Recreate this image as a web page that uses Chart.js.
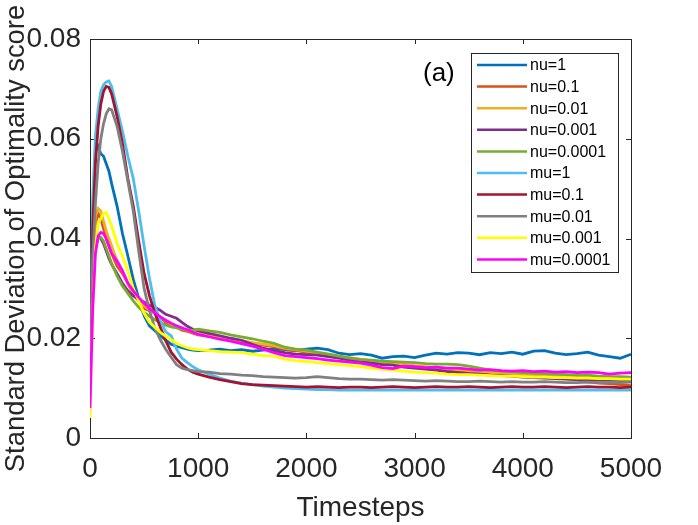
<!DOCTYPE html>
<html>
<head>
<meta charset="utf-8">
<script src="https://cdn.jsdelivr.net/npm/chart.js@4.4.1/dist/chart.umd.min.js"></script>
<style>
  html, body { margin: 0; padding: 0; background: #fff; }
  #wrap { width: 698px; height: 525px; }
</style>
</head>
<body>
<div id="wrap"><canvas id="chart"></canvas></div>
<script>
// timesteps shared by every series
const timesteps = [0, 25, 50, 75, 100, 125, 150, 175, 200, 250, 300, 350, 400, 450, 500, 550, 600, 650, 700, 750, 800, 850, 900, 950, 1000,
  1100, 1200, 1300, 1400, 1500, 1600, 1700, 1800, 1900, 2000, 2100, 2200, 2300, 2400, 2500, 2600, 2700, 2800, 2900, 3000,
  3100, 3200, 3300, 3400, 3500, 3600, 3700, 3800, 3900, 4000, 4100, 4200, 4300, 4400, 4500, 4600, 4700, 4800, 4900, 5000];

const seriesLabels = ['nu=1', 'nu=0.1', 'nu=0.01', 'nu=0.001', 'nu=0.0001', 'mu=1', 'mu=0.1', 'mu=0.01', 'mu=0.001', 'mu=0.0001'];
const seriesColors = ['#0072BD', '#D95319', '#EDB120', '#7E2F8E', '#77AC30', '#4DBEEE', '#A2142F', '#808080', '#FFFF00', '#FF00FF'];

const nu1 = [0.012, 0.045, 0.0575, 0.0585, 0.057, 0.0565, 0.055, 0.0535, 0.051, 0.0465, 0.041, 0.0365, 0.0318, 0.028, 0.0245, 0.0225, 0.0215, 0.0205, 0.0196, 0.0188, 0.0184, 0.0181, 0.0178, 0.0176, 0.0175,
  0.0176, 0.0178, 0.0175, 0.0177, 0.0174, 0.0176, 0.0179, 0.0177, 0.0175, 0.0178, 0.0180, 0.0177, 0.0170, 0.0167, 0.0169, 0.0166, 0.0160, 0.0163, 0.0164, 0.0161,
  0.0166, 0.0170, 0.0168, 0.0171, 0.0170, 0.0167, 0.0171, 0.0169, 0.0172, 0.0168, 0.0174, 0.0175, 0.0170, 0.0167, 0.0169, 0.0172, 0.0166, 0.0163, 0.0160, 0.0168];
const nu01 = [0.012, 0.035, 0.043, 0.045, 0.044, 0.042, 0.040, 0.0385, 0.037, 0.0345, 0.033, 0.031, 0.0288, 0.0275, 0.026, 0.0255, 0.025, 0.0242, 0.0232, 0.0225, 0.0222, 0.0216, 0.0214, 0.021, 0.0207,
  0.0204, 0.0201, 0.0196, 0.0192, 0.0190, 0.0186, 0.0183, 0.0178, 0.0175, 0.0172, 0.0168, 0.0166, 0.0162, 0.0160, 0.0157, 0.0153, 0.0151, 0.0149, 0.0146, 0.0143,
  0.0141, 0.0139, 0.0136, 0.0135, 0.0133, 0.0131, 0.0130, 0.0129, 0.0127, 0.0126, 0.0124, 0.0122, 0.0121, 0.0119, 0.0117, 0.0113, 0.0110, 0.0109, 0.0107, 0.0105];
const nu001 = [0.012, 0.036, 0.0445, 0.046, 0.0455, 0.0435, 0.0415, 0.040, 0.0385, 0.0355, 0.0335, 0.031, 0.029, 0.0277, 0.0265, 0.0257, 0.025, 0.0243, 0.0236, 0.0228, 0.0223, 0.0219, 0.0216, 0.0212, 0.0209,
  0.0206, 0.0201, 0.0198, 0.0195, 0.0191, 0.0188, 0.0185, 0.0180, 0.0177, 0.0174, 0.0170, 0.0168, 0.0164, 0.0161, 0.0158, 0.0155, 0.0152, 0.0150, 0.0148, 0.0145,
  0.0143, 0.0141, 0.0139, 0.0137, 0.0135, 0.0133, 0.0131, 0.0130, 0.0128, 0.0127, 0.0126, 0.0125, 0.0124, 0.0123, 0.0122, 0.0121, 0.0120, 0.0119, 0.0118, 0.0117];
const nu0001 = [0.012, 0.032, 0.039, 0.0405, 0.040, 0.039, 0.0375, 0.036, 0.0348, 0.033, 0.031, 0.0295, 0.0285, 0.0278, 0.0272, 0.0266, 0.0262, 0.0256, 0.0248, 0.0244, 0.0240, 0.0232, 0.0224, 0.0218, 0.0215,
  0.0210, 0.0205, 0.0200, 0.0196, 0.0188, 0.0180, 0.0175, 0.0171, 0.0168, 0.0167, 0.0166, 0.0163, 0.0160, 0.0156, 0.0153, 0.0150, 0.0147, 0.0146, 0.0142, 0.0140,
  0.0138, 0.0136, 0.0133, 0.0131, 0.0129, 0.0128, 0.0126, 0.0125, 0.0124, 0.0122, 0.0121, 0.0120, 0.0119, 0.0118, 0.0117, 0.0117, 0.0116, 0.0115, 0.0115, 0.0114];
const nu00001 = [0.012, 0.031, 0.038, 0.040, 0.0402, 0.0395, 0.038, 0.0365, 0.035, 0.0325, 0.0305, 0.029, 0.0275, 0.0262, 0.0252, 0.0244, 0.0237, 0.0232, 0.0226, 0.0223, 0.0221, 0.0219, 0.0217, 0.0216, 0.0218,
  0.0215, 0.0212, 0.0207, 0.0203, 0.0199, 0.0194, 0.0190, 0.0182, 0.0178, 0.0176, 0.0172, 0.0168, 0.0164, 0.0160, 0.0157, 0.0156, 0.0154, 0.0153, 0.0152, 0.0151,
  0.0149, 0.0148, 0.0148, 0.0147, 0.0144, 0.0140, 0.0136, 0.0134, 0.0133, 0.0131, 0.0130, 0.0129, 0.0128, 0.0127, 0.0126, 0.0126, 0.0124, 0.0123, 0.0123, 0.0122];
const mu1 = [0.010, 0.048, 0.0605, 0.066, 0.0695, 0.0708, 0.0714, 0.0716, 0.0705, 0.066, 0.0615, 0.0565, 0.052, 0.0455, 0.0385, 0.032, 0.0265, 0.0235, 0.0213, 0.0205, 0.0178, 0.0160, 0.0151, 0.0143, 0.0137,
  0.0128, 0.0120, 0.0114, 0.0110, 0.0107, 0.0104, 0.0102, 0.0100, 0.0099, 0.0098, 0.0097, 0.0097, 0.0096, 0.0096, 0.0096, 0.0096, 0.0096, 0.0096, 0.0096, 0.0096,
  0.0096, 0.0096, 0.0096, 0.0096, 0.0096, 0.0096, 0.0096, 0.0096, 0.0096, 0.0096, 0.0096, 0.0096, 0.0096, 0.0096, 0.0096, 0.0096, 0.0096, 0.0096, 0.0096, 0.0096];
const mu01 = [0.012, 0.042, 0.055, 0.0625, 0.067, 0.0695, 0.0705, 0.0703, 0.069, 0.0645, 0.059, 0.052, 0.0465, 0.0395, 0.033, 0.0285, 0.025, 0.0222, 0.0195, 0.0172, 0.0158, 0.0147, 0.0138, 0.0132, 0.0128,
  0.0122, 0.0117, 0.0113, 0.0109, 0.0107, 0.0106, 0.0105, 0.0104, 0.0103, 0.0102, 0.0103, 0.0102, 0.0101, 0.0102, 0.0102, 0.0101, 0.0102, 0.0103, 0.0102, 0.0101,
  0.0102, 0.0103, 0.0102, 0.0102, 0.0103, 0.0102, 0.0101, 0.0102, 0.0103, 0.0102, 0.0102, 0.0103, 0.0102, 0.0101, 0.0102, 0.0103, 0.0102, 0.0102, 0.0101, 0.0102];
const mu001 = [0.014, 0.036, 0.047, 0.055, 0.060, 0.063, 0.065, 0.066, 0.0658, 0.0625, 0.0575, 0.0515, 0.0455, 0.0375, 0.030, 0.0255, 0.022, 0.0197, 0.0178, 0.0162, 0.0147, 0.0140, 0.0137, 0.0135, 0.0133,
  0.0132, 0.0129, 0.0128, 0.0126, 0.0125, 0.0123, 0.0122, 0.0121, 0.0120, 0.0121, 0.0123, 0.0121, 0.0119, 0.0118, 0.0118, 0.0117, 0.0116, 0.0117, 0.0116, 0.0115,
  0.0114, 0.0115, 0.0114, 0.0113, 0.0113, 0.0114, 0.0113, 0.0112, 0.0113, 0.0112, 0.0112, 0.0113, 0.0112, 0.0111, 0.0111, 0.0112, 0.0111, 0.0112, 0.0111, 0.0112];
const mu0001 = [0.004, 0.025, 0.038, 0.043, 0.044, 0.045, 0.0452, 0.0440, 0.0425, 0.039, 0.0365, 0.0335, 0.030, 0.0275, 0.025, 0.0232, 0.0222, 0.0212, 0.0204, 0.0197, 0.0190, 0.0185, 0.0181, 0.0178, 0.0177,
  0.0175, 0.0173, 0.0172, 0.0171, 0.0168, 0.0165, 0.0164, 0.0158, 0.0155, 0.0153, 0.0151, 0.0149, 0.0147, 0.0145, 0.0143, 0.0140, 0.0138, 0.0136, 0.0134, 0.0132,
  0.0131, 0.0130, 0.0128, 0.0127, 0.0127, 0.0126, 0.0125, 0.0124, 0.0124, 0.0123, 0.0122, 0.0122, 0.0121, 0.0121, 0.0120, 0.0120, 0.0119, 0.0119, 0.0118, 0.0118];
const mu00001 = [0.006, 0.026, 0.037, 0.0405, 0.0412, 0.041, 0.040, 0.0385, 0.037, 0.0355, 0.0335, 0.031, 0.0295, 0.0282, 0.027, 0.026, 0.0251, 0.0243, 0.0236, 0.0230, 0.0225, 0.0221, 0.0217, 0.0212, 0.0208,
  0.0203, 0.0198, 0.0194, 0.0189, 0.0184, 0.0178, 0.0171, 0.0165, 0.0163, 0.0161, 0.0159, 0.0156, 0.0154, 0.0152, 0.0150, 0.0146, 0.0141, 0.0139, 0.0144, 0.0143,
  0.0141, 0.0142, 0.0140, 0.0140, 0.0138, 0.0136, 0.0137, 0.0135, 0.0134, 0.0135, 0.0133, 0.0134, 0.0132, 0.0133, 0.0131, 0.0132, 0.0131, 0.0128, 0.0130, 0.0131];

const allSeries = [nu1, nu01, nu001, nu0001, nu00001, mu1, mu01, mu001, mu0001, mu00001];

const FONT = '"Liberation Sans", Arial, Helvetica, sans-serif';
const AXIS = '#262626';

// MATLAB-like box with inward ticks on all four sides
const boxPlugin = {
  id: 'box',
  beforeDatasetsDraw(chart) {
    const { ctx, chartArea: a, scales } = chart;
    ctx.save();
    ctx.strokeStyle = AXIS;
    ctx.lineWidth = 1;
    ctx.strokeRect(Math.round(a.left) + 0.5, Math.round(a.top) + 0.5, Math.round(a.right - a.left), Math.round(a.bottom - a.top));
    const tl = 5;
    ctx.beginPath();
    scales.x.ticks.forEach(t => {
      const px = Math.round(scales.x.getPixelForValue(t.value)) + 0.5;
      ctx.moveTo(px, a.bottom); ctx.lineTo(px, a.bottom - tl);
      ctx.moveTo(px, a.top); ctx.lineTo(px, a.top + tl);
    });
    scales.y.ticks.forEach(t => {
      const py = Math.round(scales.y.getPixelForValue(t.value)) + 0.5;
      ctx.moveTo(a.left, py); ctx.lineTo(a.left + tl, py);
      ctx.moveTo(a.right, py); ctx.lineTo(a.right - tl, py);
    });
    ctx.stroke();
    ctx.restore();
  },
  afterDatasetsDraw(chart) {
    const { ctx, chartArea: a } = chart;
    ctx.save();
    // panel tag
    ctx.fillStyle = '#000';
    ctx.font = '26px ' + FONT;
    ctx.textBaseline = 'middle';
    ctx.textAlign = 'left';
    ctx.fillText('(a)', a.left + 333, a.top + 35);
    // legend box
    const bx = a.right - 160, by = a.top + 14, bw = 147, bh = 219;
    ctx.fillStyle = '#fff';
    ctx.fillRect(bx, by, bw, bh);
    ctx.strokeStyle = AXIS;
    ctx.lineWidth = 1;
    ctx.strokeRect(Math.round(bx) + 0.5, Math.round(by) + 0.5, bw, bh);
    ctx.font = '16px ' + FONT;
    seriesLabels.forEach((lab, i) => {
      const y = by + 12 + i * 21.6;
      ctx.strokeStyle = seriesColors[i];
      ctx.lineWidth = 2.5;
      ctx.beginPath();
      ctx.moveTo(bx + 6, y); ctx.lineTo(bx + 56, y);
      ctx.stroke();
      ctx.fillStyle = '#000';
      ctx.fillText(lab, bx + 59, y + 1);
    });
    ctx.restore();
  }
};

const datasets = allSeries.map((vals, i) => ({
  label: seriesLabels[i],
  data: timesteps.map((t, k) => ({ x: t, y: vals[k] })),
  borderColor: seriesColors[i],
  backgroundColor: seriesColors[i],
  borderWidth: 2.8,
  pointRadius: 0,
  tension: 0,
  fill: false,
  order: 9 - i
}));

new Chart(document.getElementById('chart'), {
  type: 'line',
  data: { datasets },
  options: {
    responsive: true,
    maintainAspectRatio: false,
    animation: false,
    layout: { padding: { top: 39, right: 67, left: 0, bottom: 0 } },
    plugins: { legend: { display: false }, tooltip: { enabled: false } },
    scales: {
      x: {
        type: 'linear',
        min: 0, max: 5000,
        afterFit(s) { s.height = 87; },
        grid: { display: false, drawTicks: false },
        border: { display: false },
        ticks: {
          stepSize: 1000,
          padding: 14,
          color: AXIS,
          font: { family: FONT, size: 28 },
          maxRotation: 0,
          callback: v => String(v)
        },
        title: { display: true, text: 'Timesteps', color: AXIS, font: { family: FONT, size: 28 }, padding: 0 }
      },
      y: {
        min: 0, max: 0.08,
        afterFit(s) { s.width = 90; },
        grid: { display: false, drawTicks: false },
        border: { display: false },
        ticks: {
          stepSize: 0.02,
          padding: 9,
          color: AXIS,
          font: { family: FONT, size: 28 },
          callback: v => String(Math.round(v * 100) / 100)
        },
        title: { display: true, text: 'Standard Deviation of Optimality score', color: AXIS, font: { family: FONT, size: 27.4 }, padding: 0 }
      }
    }
  },
  plugins: [boxPlugin]
});
</script>
</body>
</html>
